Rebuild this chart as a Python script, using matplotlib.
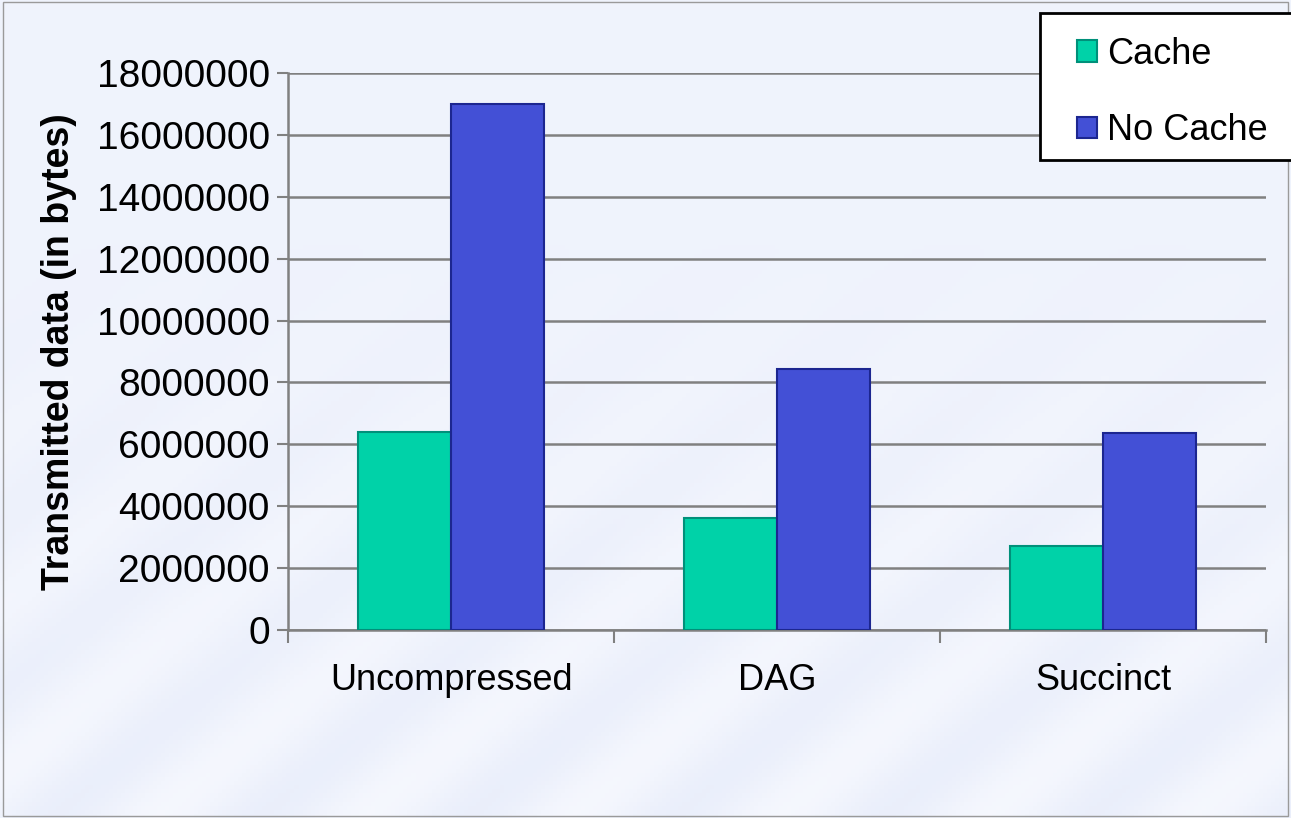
import numpy as np
import matplotlib.pyplot as plt
from matplotlib.patches import Rectangle

plt.rcParams['font.family'] = ['Liberation Sans', 'DejaVu Sans']

categories = ['Uncompressed', 'DAG', 'Succinct']
cache = [6400000, 3620000, 2710000]
no_cache = [17000000, 8450000, 6360000]
yticks = np.arange(0, 18000001, 2000000)

fig = plt.figure(figsize=(12.91, 8.18), dpi=100)
fig.patch.set_facecolor('#f3f6fd')

# pale streaky background
bg = fig.add_axes([0, 0, 1, 1], zorder=-10)
yy, xx = np.mgrid[0:1:200j, 0:1:320j]
diag = xx * 1.3 - (1 - yy) * 1.0
tex = 0.5 + 0.5 * np.sin(diag * 30) * np.clip(yy * 1.2 - 0.35, 0, 1)
bg.imshow(tex, cmap=plt.matplotlib.colors.LinearSegmentedColormap.from_list(
    'bgc', ['#f6f8fe', '#e3e9f9']), aspect='auto', extent=[0, 1, 0, 1],
    origin='upper', vmin=0, vmax=1.5)
bg.set_axis_off()
fig.add_artist(Rectangle((0.002, 0.002), 0.996, 0.996, transform=fig.transFigure,
                         fill=False, edgecolor='#9a9a9a', linewidth=1))

ax = fig.add_axes([0.2231, 0.2298, 0.9807 - 0.2231, 0.9108 - 0.2298])
ax.set_facecolor('none')

x = np.arange(len(categories))
w = 0.285
ax.bar(x - w / 2, cache, w, color='#00d2a8', edgecolor='#00907a', linewidth=1.5,
       label='Cache', zorder=3)
ax.bar(x + w / 2, no_cache, w, color='#4350d6', edgecolor='#1c2690', linewidth=1.5,
       label='No Cache', zorder=3)

ax.set_xlim(-0.5, len(categories) - 0.5)
ax.set_ylim(0, 18000000)
ax.set_yticks(yticks)
ax.set_yticklabels([str(v) for v in yticks], fontsize=28)
ax.yaxis.grid(True, color='#808080', linewidth=1.8, zorder=0)
ax.set_axisbelow(True)

# category ticks at the boundaries, labels centred
ax.set_xticks(np.arange(-0.5, len(categories), 1.0))
ax.set_xticklabels([])
ax.set_xticks(x, minor=True)
ax.set_xticklabels(categories, minor=True, fontsize=26)
ax.tick_params(axis='x', which='minor', length=0, pad=24)
ax.tick_params(axis='x', which='major', length=9, color='#808080', width=1.5)
ax.tick_params(axis='y', length=8, color='#808080', width=1.5, pad=5)

for s in ['top', 'right']:
    ax.spines[s].set_visible(False)
for s in ['left', 'bottom']:
    ax.spines[s].set_color('#808080')
    ax.spines[s].set_linewidth(1.8)

ax.set_ylabel('Transmitted data (in bytes)', fontsize=27, fontweight='bold', labelpad=14)

# legend box runs off the right edge of the picture
fig.add_artist(Rectangle((0.8056, 0.8044), 0.25, 0.1797, transform=fig.transFigure,
                         facecolor='white', edgecolor='black', linewidth=2, zorder=5))
leg = fig.legend(loc='upper left', bbox_to_anchor=(0.834, 0.955), fontsize=26,
                 frameon=False, handlelength=0.55, handleheight=0.55,
                 handletextpad=0.3, labelspacing=1.15, borderpad=0, borderaxespad=0)
leg.set_zorder(6)

fig.savefig('out.png', dpi=100, facecolor=fig.get_facecolor())
